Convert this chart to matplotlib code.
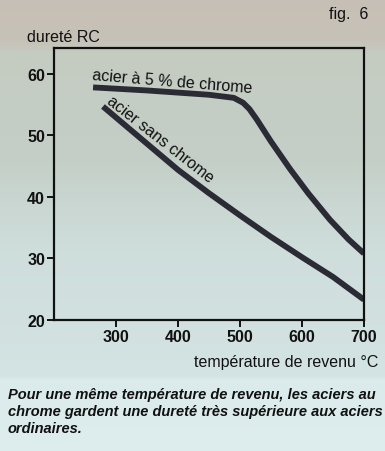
import numpy as np
import matplotlib
matplotlib.use("Agg")
import matplotlib.pyplot as plt
from matplotlib.colors import LinearSegmentedColormap

# Data
temp_chrome = [263, 350, 450, 490, 505, 515, 527, 550, 581, 610, 645, 675, 700]
hard_chrome = [57.8, 57.3, 56.6, 56.1, 55.3, 54.3, 52.6, 49.0, 44.5, 40.6, 36.3, 33.1, 30.8]
temp_plain = [279, 320, 360, 400, 450, 500, 550, 600, 650, 700]
hard_plain = [54.7, 51.2, 47.8, 44.4, 40.6, 37.0, 33.5, 30.2, 27.0, 23.3]
xticks = [300, 400, 500, 600, 700]
yticks = [20, 30, 40, 50, 60]

plt.rcParams['font.family'] = ['Liberation Sans', 'DejaVu Sans']

W, H = 385, 452
fig = plt.figure(figsize=(W / 100, H / 100), dpi=100)

# background gradient
bg = fig.add_axes([0, 0, 1, 1])
bg.set_axis_off()
cmap = LinearSegmentedColormap.from_list(
    "bg",
    [(0.0, (0.78, 0.75, 0.71)),
     (0.09, (0.78, 0.76, 0.72)),
     (0.12, (0.77, 0.80, 0.76)),
     (0.35, (0.77, 0.81, 0.78)),
     (0.55, (0.81, 0.87, 0.86)),
     (0.835, (0.83, 0.89, 0.89)),
     (0.845, (0.86, 0.92, 0.92)),
     (1.0, (0.87, 0.93, 0.93))])
grad = np.linspace(0, 1, 256).reshape(-1, 1)
bg.imshow(grad, aspect='auto', cmap=cmap, extent=[0, 1, 0, 1], origin='upper')
bg.set_xlim(0, 1)
bg.set_ylim(0, 1)

# axes: left 54px, right 364px, top 49px, bottom 321px
ax = fig.add_axes([54 / W, 1 - 321 / H, (364 - 54) / W, (321 - 49) / H])
ax.patch.set_alpha(0)
ax.set_xlim(200, 700)
ax.set_ylim(20, 64.2)
for s in ax.spines.values():
    s.set_linewidth(1.6)
    s.set_color('#111111')
ax.set_xticks(xticks)
ax.set_yticks(yticks)
ax.tick_params(axis='both', direction='out', length=5, width=1.4,
               labelsize=11.5, colors='#111111', pad=1.5)
for lab in ax.get_xticklabels() + ax.get_yticklabels():
    lab.set_fontweight('bold')

lc = '#2b2b36'
ax.plot(temp_chrome, hard_chrome, color=lc, lw=4.2, solid_capstyle='butt',
        solid_joinstyle='round')
ax.plot(temp_plain, hard_plain, color=lc, lw=4.2, solid_capstyle='butt',
        solid_joinstyle='round')

ax.text(390, 58.9, "acier à 5 % de chrome", fontsize=11.5, rotation=-4.7,
        ha='center', va='center', color='#111111', rotation_mode='anchor')
ax.text(371, 49.4, "acier sans chrome", fontsize=11.5, rotation=-38,
        ha='center', va='center', color='#111111', rotation_mode='anchor')

fig.text(27 / W, 1 - 38 / H, "dureté RC", fontsize=11.5, ha='left',
         va='center', color='#111111')
fig.text(368 / W, 1 - 15 / H, "fig.  6", fontsize=11.5, ha='right',
         va='center', color='#111111')
fig.text(378 / W, 1 - 363 / H, "température de revenu °C", fontsize=11.5,
         ha='right', va='center', color='#111111')

caption = ("Pour une même température de revenu, les aciers au\n"
           "chrome gardent une dureté très supérieure aux aciers\n"
           "ordinaires.")
fig.text(8 / W, 1 - 388 / H, caption, fontsize=10.5, ha='left', va='top',
         style='italic', fontweight='bold', color='#111111', linespacing=1.28)

fig.savefig("out.png", dpi=100)
